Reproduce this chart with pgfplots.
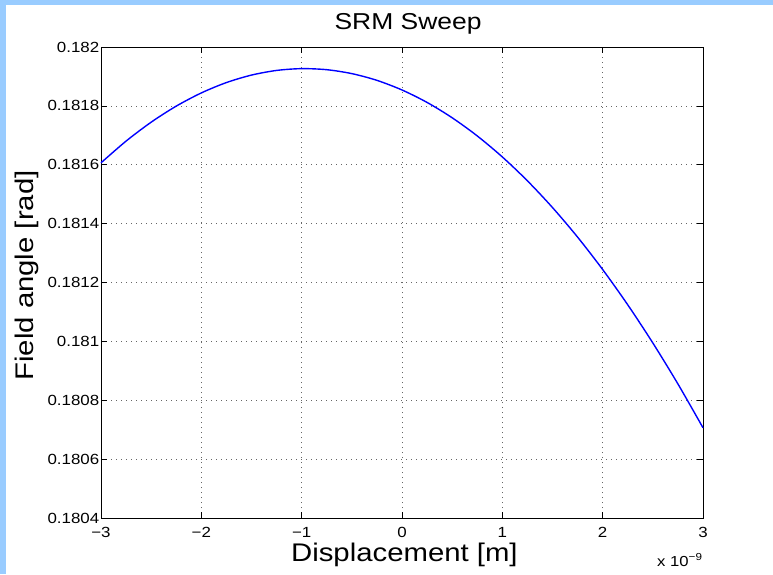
\documentclass[border=0pt]{standalone}
\usepackage{fontspec}
\setmainfont{Liberation Sans}[FakeStretch=1.15]
\usepackage{pgfplots}
\pgfplotsset{compat=1.18}
\definecolor{strip}{RGB}{153,204,255}
\definecolor{matblue}{RGB}{0,0,255}
\begin{document}
\begin{tikzpicture}
\path[use as bounding box] (0,0) rectangle (773pt,574pt);
\fill[white] (0,0) rectangle (773pt,574pt);
\fill[strip] (0,0) rectangle (6pt,574pt);
\fill[strip] (0,569pt) rectangle (773pt,574pt);
\begin{axis}[
  at={(101pt,56pt)}, anchor=south west,
  scale only axis, width=602pt, height=471pt,
  xmin=-3, xmax=3, ymin=0.1804, ymax=0.182,
  clip=false,
  scaled ticks=false,
  xtick={-3,-2,-1,0,1,2,3},
  xticklabels={−3,−2,−1,0,1,2,3},
  ytick={0.1804,0.1806,0.1808,0.181,0.1812,0.1814,0.1816,0.1818,0.182},
  yticklabels={0.1804,0.1806,0.1808,0.181,0.1812,0.1814,0.1816,0.1818,0.182},
  tick align=inside, major tick length=6pt,
  tick style={black, line width=0.6pt},
  axis line style={black, line width=0.8pt},
  grid=major,
  grid style={black!60, line width=0.7pt, dash pattern=on 1pt off 4pt},
  ticklabel style={font=\fontsize{14.7}{16}\selectfont},
  yticklabel style={inner sep=0pt, xshift=-1.5pt, anchor=east},
  xticklabel style={inner sep=0pt, yshift=-8.7pt, anchor=north},
  title={SRM Sweep},
  title style={at={(axis description cs:0.51,1.0361)}, anchor=base, yshift=-6pt, font=\fontsize{23}{26}\selectfont, inner sep=0pt},
  xlabel={Displacement [m]},
  xlabel style={at={(axis description cs:0.504,-0.0934)}, anchor=base, font=\fontsize{25.5}{28}\selectfont, inner sep=0pt},
  ylabel={Field angle [rad]},
  ylabel style={at={(axis description cs:-0.1121,0.5149)}, anchor=base, font=\fontsize{25.5}{28}\selectfont, inner sep=0pt},
]
\addplot[matblue, line width=1.4pt, smooth] coordinates {
(-3,0.1816065) (-2.75,0.1816804) (-2.5,0.1817446) (-2.25,0.1817992)
(-2,0.1818440) (-1.75,0.1818792) (-1.5,0.1819046) (-1.25,0.1819204)
(-1,0.1819265) (-0.75,0.1819229) (-0.5,0.1819096) (-0.25,0.1818867)
(0,0.1818540) (0.25,0.1818117) (0.5,0.1817596) (0.75,0.1816979)
(1,0.1816265) (1.25,0.1815454) (1.5,0.1814546) (1.75,0.1813542)
(2,0.1812440) (2.25,0.1811242) (2.5,0.1809946) (2.75,0.1808554)
(3,0.1807065)
};
\node[anchor=base west, inner sep=0pt, font=\fontsize{14.5}{16}\selectfont] at (axis description cs:0.9236,-0.1019) {x 10\textsuperscript{−9}};
\end{axis}
\end{tikzpicture}
\end{document}
